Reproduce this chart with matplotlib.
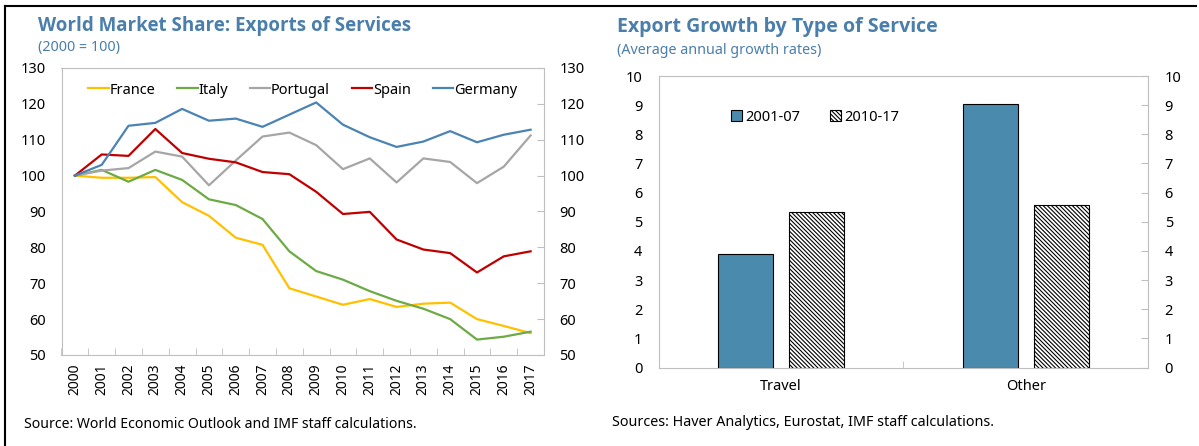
import matplotlib
matplotlib.use("Agg")
import matplotlib.pyplot as plt
from matplotlib.lines import Line2D

plt.rcParams['font.family'] = ['Noto Sans', 'DejaVu Sans']
plt.rcParams['hatch.linewidth'] = 0.8

years = list(range(2000, 2018))
france = [100, 99.4, 99.4, 99.6, 92.6, 88.8, 82.7, 80.7, 68.6, 66.3, 64.0, 65.6, 63.4, 64.3, 64.6, 60.0, 58.1, 56.1]
italy = [100, 101.6, 98.3, 101.6, 98.8, 93.4, 91.8, 87.9, 78.9, 73.4, 71.0, 67.8, 65.1, 62.9, 60.0, 54.3, 55.1, 56.5]
portugal = [100, 101.4, 102.1, 106.7, 105.3, 97.3, 104.2, 110.9, 112.0, 108.5, 101.8, 104.8, 98.1, 104.8, 103.8, 97.9, 102.5, 111.2]
spain = [100, 105.9, 105.5, 113.0, 106.3, 104.7, 103.7, 101.0, 100.4, 95.5, 89.3, 89.9, 82.2, 79.4, 78.4, 73.0, 77.5, 78.9]
germany = [100, 103.0, 113.9, 114.7, 118.6, 115.3, 115.9, 113.6, 117.0, 120.4, 114.2, 110.7, 108.0, 109.5, 112.4, 109.3, 111.4, 112.8]

series_names = ["France", "Italy", "Portugal", "Spain", "Germany"]
series_colors = ["#FFC000", "#6DAA45", "#A6A6A6", "#C00000", "#4A83B4"]

services = ["Travel", "Other"]
growth_0107 = [3.9, 9.05]
growth_1017 = [5.33, 5.56]

TITLE_BLUE = "#4A7EAB"
SPINE = "#BFBFBF"
TITLE_FONT = ['Open Sans', 'Lato', 'DejaVu Sans']

fig = plt.figure(figsize=(11.99, 4.46), dpi=100)

# ---- left panel: world market share ----
ax1 = fig.add_axes([61.5 / 1199, 1 - 355 / 446, 482.5 / 1199, 287 / 446])
for name, vals, col in zip(series_names, [france, italy, portugal, spain, germany], series_colors):
    ax1.plot(range(len(years)), vals, color=col, lw=1.6, label=name)
ax1.set_xlim(-0.5, len(years) - 0.5)
ax1.set_ylim(50, 130)
ax1.set_yticks(range(50, 131, 10))
ax1.set_xticks(range(len(years)))
ax1.set_xticklabels([str(y) for y in years], rotation=90)
ax1.set_xticks([i + 0.5 for i in range(-1, len(years))], minor=True)
ax1.tick_params(axis='x', which='major', length=0, pad=6, labelsize=10)
ax1.tick_params(axis='x', which='minor', direction='in', length=5, color=SPINE)
ax1.tick_params(axis='y', left=False, right=True, labelright=True, direction='in',
                length=5, color=SPINE, labelsize=10.5, pad=11)
for s in ax1.spines.values():
    s.set_color(SPINE)
ax1.legend(loc='upper center', bbox_to_anchor=(0.5, 0.995), ncol=5, frameon=False,
           handlelength=1.4, handletextpad=0.05, columnspacing=1.5, fontsize=10.5)

fig.text(38 / 1199, 1 - 26 / 446, "World Market Share: Exports of Services", color=TITLE_BLUE,
         fontsize=13.5, fontweight='bold', family=TITLE_FONT, va='center', ha='left')
fig.text(38 / 1199, 1 - 48 / 446, "(2000 = 100)", color=TITLE_BLUE, fontsize=10.3, va='center', ha='left')
fig.text(24 / 1199, 1 - 424 / 446, "Source: World Economic Outlook and IMF staff calculations.",
         fontsize=10.1, va='center', ha='left')

# ---- right panel: export growth ----
ax2 = fig.add_axes([659 / 1199, 1 - 367.5 / 446, 489 / 1199, 291.5 / 446])
x = range(len(services))
w = 0.225
ax2.bar([i - 0.145 for i in x], growth_0107, width=w, color="#4A8BAD", edgecolor='black',
        linewidth=0.8, label="2001-07")
ax2.bar([i + 0.145 for i in x], growth_1017, width=w, color="white", edgecolor='black',
        linewidth=0.8, hatch='\\\\\\\\\\\\\\\\', label="2010-17")
ax2.set_xlim(-0.5, 1.5)
ax2.set_ylim(0, 10)
ax2.set_yticks(range(0, 11))
ax2.set_xticks(list(x))
ax2.set_xticklabels(services)
ax2.set_xticks([0.5], minor=True)
ax2.tick_params(axis='x', which='major', length=0, pad=8, labelsize=10.5)
ax2.tick_params(axis='x', which='minor', direction='in', length=5, color=SPINE)
ax2.tick_params(axis='y', left=False, right=True, labelright=True, direction='in',
                length=5, color=SPINE, labelsize=10.5, pad=12)
for s in ax2.spines.values():
    s.set_color(SPINE)
ax2.legend(loc='upper left', bbox_to_anchor=(0.12, 0.93), ncol=2, frameon=False,
           handlelength=0.8, handleheight=0.8, handletextpad=0.2, columnspacing=2.0, fontsize=10.5)

fig.text(617 / 1199, 1 - 27 / 446, "Export Growth by Type of Service", color=TITLE_BLUE,
         fontsize=14, fontweight='bold', family=TITLE_FONT, va='center', ha='left')
fig.text(617 / 1199, 1 - 50 / 446, "(Average annual growth rates)", color=TITLE_BLUE,
         fontsize=10.3, va='center', ha='left')
fig.text(612 / 1199, 1 - 423 / 446, "Sources: Haver Analytics, Eurostat, IMF staff calculations.",
         fontsize=10.3, va='center', ha='left')

# frame lines
fig.add_artist(Line2D([5 / 1199, 1196 / 1199], [1 - 6 / 446, 1 - 6 / 446], color='black', lw=1.5))
fig.add_artist(Line2D([5 / 1199, 5 / 1199], [0, 1 - 6 / 446], color='black', lw=1.5))

fig.savefig("out.png", dpi=100)
